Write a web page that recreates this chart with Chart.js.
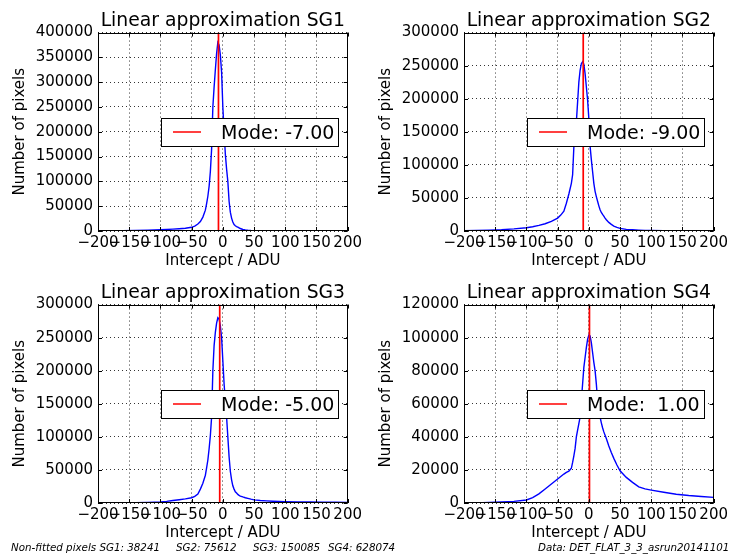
<!DOCTYPE html>
<html lang="en">
<head>
  <meta charset="UTF-8">
  <title>Linear approximation SG1-SG4</title>
  <script src="https://cdn.jsdelivr.net/npm/chart.js"></script>
  <style>
    body { margin: 0; width: 730px; height: 556px; background: #fff; position: relative; overflow: hidden; }
    .panel { position: absolute; }
    .foot { position: absolute; top: 542px; font: italic 10.3px "DejaVu Sans"; line-height: 10px; white-space: pre; color: #000; }
  </style>
</head>
<body>
  <div class="panel" style="left:0;top:0"><canvas id="sg1" width="365" height="272"></canvas></div>
  <div class="panel" style="left:366px;top:0"><canvas id="sg2" width="365" height="272"></canvas></div>
  <div class="panel" style="left:0;top:272px"><canvas id="sg3" width="365" height="272"></canvas></div>
  <div class="panel" style="left:366px;top:272px"><canvas id="sg4" width="365" height="272"></canvas></div>

  <div class="foot" style="left:11px">Non-fitted pixels SG1: 38241</div>
  <div class="foot" style="left:176px">SG2: 75612</div>
  <div class="foot" style="left:253px">SG3: 150085</div>
  <div class="foot" style="left:328px">SG4: 628074</div>
  <div class="foot" style="left:538px">Data: DET_FLAT_3_3_asrun20141101</div>

  <script>
    // intercept bins (ADU), finer around the peak
    const binCenters = [-200,-180,-160,-140,-120, -100,-90,-80,-70,-60, -50,-45,-40,-36,-32,
      -28,-26,-24,-22,-20, -18,-16,-14,-12,-10, -8,-6,-4,-2,0, 2,4,6,8,10, 12,14,16,18,20,
      22,24,26,28,32, 36,40,45,50,60, 70,80,90,100,120, 140,160,180,200];

    const countsSG1 = [0,200,500,900,1500, 2500,3000,3700,4500,5500, 7500,10000,14000,19000,28000,
      42000,55000,70000,90000,120000, 165000,250000,290000,325000,358000, 380000,375000,355000,320000,250000,
      200000,155000,125000,100000,60000, 38000,26000,18000,13000,10500, 9000,8000,6500,5000,3000,
      2000,1400,900,600,400, 300,200,150,100,80, 50,30,20,0];

    const countsSG2 = [300,700,1300,2000,3200, 5000,6500,8500,11000,14500, 19500,24000,30000,42000,56000,
      72000,85000,127000,145000,165000, 195000,225000,243000,253000,256000, 252000,238000,218000,198000,170000,
      128000,108000,90000,72000,60000, 52000,45000,38000,32000,28000, 25000,22500,19500,17000,13000,
      10000,7500,5500,4000,2500, 1800,1300,1000,800,600, 400,300,200,150];

    const countsSG3 = [0,100,200,400,800, 1500,2500,3800,5000,6200, 8000,10000,13500,21000,30000,
      42000,53000,65000,82000,102000, 130000,200000,238000,258000,272000, 280000,278000,268000,250000,215000,
      180000,155000,130000,100000,70000, 48000,35000,26000,21000,17000, 15000,13000,11500,10500,9200,
      8000,7000,5800,4800,3800, 3200,2700,2300,2000,1600, 1400,1200,1100,1000];

    const countsSG4 = [0,100,300,600,1000, 1800,3300,5500,8500,11500, 14500,16000,17500,18500,19300,
      21000,24500,28500,33000,40000, 44000,48000,52000,62000,72000, 82000,88000,94000,99000,101500,
      101000,97000,91000,85000,80000, 72000,62000,58000,52000,48500, 45500,43000,41000,39000,34500,
      30500,27000,23000,19500,15500, 12500,9800,8500,7800,6500, 5300,4500,3900,3400];

    const modes = [-7, -9, -5, 1];
    const yMax = [400000, 300000, 300000, 120000];
    const yStep = [50000, 50000, 50000, 20000];
    const xTicks = [-200, 200, 50]; // min, max, step

    Chart.defaults.font.family = '"DejaVu Sans"';
    Chart.defaults.color = '#000';

    const frameAndLegend = {
      id: 'frameAndLegend',
      afterDraw(chart, args, opts) {
        const { ctx, chartArea: a, scales: { x, y } } = chart;
        ctx.save();
        ctx.strokeStyle = '#000';
        ctx.lineWidth = 1;
        // inward tick marks on all four sides
        ctx.beginPath();
        x.ticks.forEach(t => {
          const px = Math.round(x.getPixelForValue(t.value)) + 0.5;
          ctx.moveTo(px, a.bottom); ctx.lineTo(px, a.bottom - 4);
          ctx.moveTo(px, a.top); ctx.lineTo(px, a.top + 4);
        });
        y.ticks.forEach(t => {
          const py = Math.round(y.getPixelForValue(t.value)) + 0.5;
          ctx.moveTo(a.left, py); ctx.lineTo(a.left + 4, py);
          ctx.moveTo(a.right, py); ctx.lineTo(a.right - 4, py);
        });
        ctx.stroke();
        ctx.strokeRect(Math.round(a.left) + 0.5, Math.round(a.top) + 0.5,
          Math.round(a.width) - 1, Math.round(a.height) - 1);

        // legend box, centre right
        const bw = 177, bh = 28;
        const bx = Math.round(a.right - 10 - bw), by = Math.round((a.top + a.bottom) / 2 - bh / 2);
        const cy = by + bh / 2;
        ctx.fillStyle = '#fff';
        ctx.fillRect(bx, by, bw, bh);
        ctx.strokeRect(bx + 0.5, by + 0.5, bw, bh);
        ctx.strokeStyle = '#ff0000';
        ctx.lineWidth = 1.5;
        ctx.beginPath();
        ctx.moveTo(bx + 12, cy); ctx.lineTo(bx + 40, cy);
        ctx.stroke();
        ctx.fillStyle = '#000';
        ctx.font = '19px "DejaVu Sans"';
        ctx.textBaseline = 'alphabetic';
        ctx.fillText(opts.text, bx + 60, cy + 6.8);
        ctx.restore();
      }
    };

    const panels = [countsSG1, countsSG2, countsSG3, countsSG4];
    panels.forEach((counts, i) => {
      const modeText = 'Mode: ' + modes[i].toFixed(2).padStart(5, ' ');
      new Chart(document.getElementById('sg' + (i + 1)), {
        type: 'line',
        data: {
          datasets: [
            {
              label: modeText,
              data: [{ x: modes[i], y: 0 }, { x: modes[i], y: yMax[i] }],
              borderColor: '#ff0000', borderWidth: 1.7, pointRadius: 0
            },
            {
              label: 'histogram',
              data: binCenters.map((x, k) => ({ x: x, y: counts[k] })),
              borderColor: '#0000ff', borderWidth: 1.4, pointRadius: 0, tension: 0
            }
          ]
        },
        options: {
          responsive: false,
          animation: false,
          events: [],
          layout: { padding: { left: 0, right: 16, top: 0, bottom: 0 } },
          scales: {
            x: {
              type: 'linear', min: xTicks[0], max: xTicks[1],
              afterFit(s) { s.height = 41; },
              ticks: {
                stepSize: xTicks[2], autoSkip: false, maxRotation: 0, minRotation: 0, padding: 3,
                font: { size: 15 },
                callback: v => (v < 0 ? '\u2212' + Math.abs(v) : String(v))
              },
              grid: { color: '#000', lineWidth: 0.8, drawTicks: false },
              border: { display: false, dash: [1, 3] },
              title: { display: true, text: 'Intercept / ADU', font: { size: 15 }, padding: { top: 0, bottom: 2 } }
            },
            y: {
              type: 'linear', min: 0, max: yMax[i],
              afterFit(s) { s.width = 98; },
              ticks: { stepSize: yStep[i], padding: 5, font: { size: 15 }, callback: v => String(v) },
              grid: { color: '#000', lineWidth: 0.8, drawTicks: false },
              border: { display: false, dash: [1, 3] },
              title: { display: true, text: 'Number of pixels', font: { size: 15 }, padding: { top: 11, bottom: 0 } }
            }
          },
          plugins: {
            legend: { display: false },
            tooltip: { enabled: false },
            title: {
              display: true, fullSize: false,
              text: 'Linear approximation SG' + (i + 1),
              font: { size: 18.8, weight: 'normal' }, color: '#000',
              padding: { top: 10, bottom: 0 }
            },
            frameAndLegend: { text: modeText }
          }
        },
        plugins: [frameAndLegend]
      });
    });
  </script>
</body>
</html>
